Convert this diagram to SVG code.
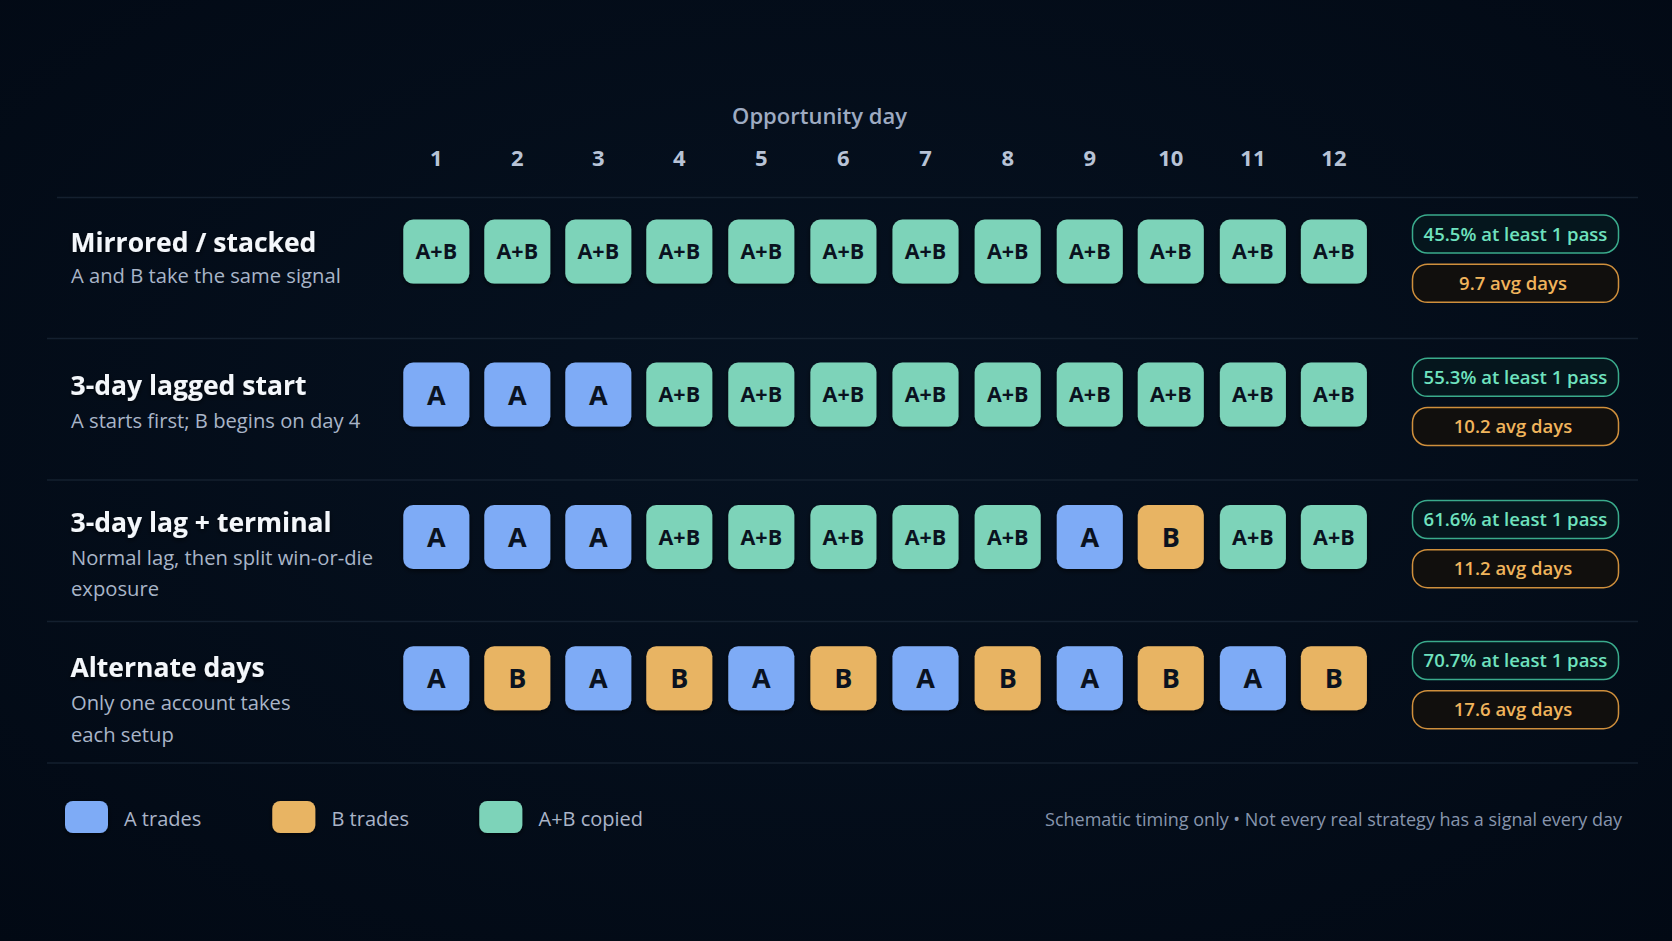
<svg xmlns="http://www.w3.org/2000/svg" width="1672" height="941" viewBox="0 0 1672 941">
<defs>
<radialGradient id="bg" cx="50%" cy="45%" r="75%">
<stop offset="0" stop-color="#061221"/>
<stop offset="1" stop-color="#020914"/>
</radialGradient>
<filter id="sh" x="-20%" y="-20%" width="140%" height="150%">
<feDropShadow dx="0" dy="2" stdDeviation="2.5" flood-color="#000000" flood-opacity="0.6"/>
</filter>
<style>
.title{font-family:"Open Sans","Noto Sans",sans-serif;font-weight:700;font-size:26.5px;fill:#f4f7fb}
.sub{font-family:"Open Sans","Noto Sans",sans-serif;font-size:20.2px;fill:#a9b5c8}
.day{font-family:"Open Sans","Noto Sans",sans-serif;font-weight:700;font-size:22px;fill:#b8c3d6;text-anchor:middle}
.hdr{font-family:"Open Sans","Noto Sans",sans-serif;font-weight:600;font-size:22px;fill:#9eabc2;text-anchor:middle}
.sep{stroke:#14202f;stroke-width:1.5}
.tA{fill:#7eabf6}
.tB{fill:#e8b464}
.tAB{fill:#7dd3b9}
.tt{font-family:"Open Sans","Noto Sans",sans-serif;font-weight:700;fill:#0a1220;text-anchor:middle}
.s1{font-size:27px}
.s2{font-size:21.5px}
.pg{fill:#05161d;stroke:#3aab8c;stroke-width:1.5}
.po{fill:#110f0d;stroke:#cf8f3c;stroke-width:1.5}
.ptg{font-family:"Open Sans","Noto Sans",sans-serif;font-weight:600;font-size:18.5px;fill:#6fe2bf;text-anchor:middle}
.pto{font-family:"Open Sans","Noto Sans",sans-serif;font-weight:600;font-size:18.5px;fill:#f0b45c;text-anchor:middle}
.leg{font-family:"Open Sans","Noto Sans",sans-serif;font-size:20px;fill:#aab4c8}
.foot{font-family:"Open Sans","Noto Sans",sans-serif;font-size:18px;fill:#8795ad;text-anchor:end}
</style>
</defs>
<rect width="1672" height="941" fill="url(#bg)"/>

<g id="header">
<text class="hdr" x="819.5" y="124">Opportunity day</text>
<text class="day" x="436.3" y="166">1</text>
<text class="day" x="517.3" y="166">2</text>
<text class="day" x="598.3" y="166">3</text>
<text class="day" x="679.3" y="166">4</text>
<text class="day" x="761.3" y="166">5</text>
<text class="day" x="843.4" y="166">6</text>
<text class="day" x="925.5" y="166">7</text>
<text class="day" x="1007.7" y="166">8</text>
<text class="day" x="1089.8" y="166">9</text>
<text class="day" x="1170.8" y="166">10</text>
<text class="day" x="1252.9" y="166">11</text>
<text class="day" x="1333.9" y="166">12</text>
</g>

<g id="connectors">
<line class="sep" x1="57" y1="197.5" x2="1638" y2="197.5"/>
<line class="sep" x1="47" y1="338.5" x2="1638" y2="338.5"/>
<line class="sep" x1="47" y1="480" x2="1638" y2="480"/>
<line class="sep" x1="47" y1="621.5" x2="1638" y2="621.5"/>
<line class="sep" x1="47" y1="763" x2="1638" y2="763"/>
</g>

<g id="row1">
<text class="title" x="70.5" y="252" filter="url(#sh)">Mirrored / stacked</text>
<text class="sub" x="71" y="283">A and B take the same signal</text>
<g filter="url(#sh)">
<rect class="tAB" x="403.3" y="219.6" width="66" height="64" rx="10"/>
<rect class="tAB" x="484.3" y="219.6" width="66" height="64" rx="10"/>
<rect class="tAB" x="565.3" y="219.6" width="66" height="64" rx="10"/>
<rect class="tAB" x="646.3" y="219.6" width="66" height="64" rx="10"/>
<rect class="tAB" x="728.3" y="219.6" width="66" height="64" rx="10"/>
<rect class="tAB" x="810.4" y="219.6" width="66" height="64" rx="10"/>
<rect class="tAB" x="892.5" y="219.6" width="66" height="64" rx="10"/>
<rect class="tAB" x="974.7" y="219.6" width="66" height="64" rx="10"/>
<rect class="tAB" x="1056.8" y="219.6" width="66" height="64" rx="10"/>
<rect class="tAB" x="1137.8" y="219.6" width="66" height="64" rx="10"/>
<rect class="tAB" x="1219.9" y="219.6" width="66" height="64" rx="10"/>
<rect class="tAB" x="1300.9" y="219.6" width="66" height="64" rx="10"/>
</g>
<text class="tt s2" x="436.3" y="259.3">A+B</text>
<text class="tt s2" x="517.3" y="259.3">A+B</text>
<text class="tt s2" x="598.3" y="259.3">A+B</text>
<text class="tt s2" x="679.3" y="259.3">A+B</text>
<text class="tt s2" x="761.3" y="259.3">A+B</text>
<text class="tt s2" x="843.4" y="259.3">A+B</text>
<text class="tt s2" x="925.5" y="259.3">A+B</text>
<text class="tt s2" x="1007.7" y="259.3">A+B</text>
<text class="tt s2" x="1089.8" y="259.3">A+B</text>
<text class="tt s2" x="1170.8" y="259.3">A+B</text>
<text class="tt s2" x="1252.9" y="259.3">A+B</text>
<text class="tt s2" x="1333.9" y="259.3">A+B</text>
<rect class="pg" x="1412.5" y="215" width="206" height="38" rx="15"/>
<text class="ptg" x="1515.5" y="240.7">45.5% at least 1 pass</text>
<rect class="po" x="1412.5" y="264.3" width="206" height="38" rx="15"/>
<text class="pto" x="1513" y="290">9.7 avg days</text>
</g>

<g id="row2">
<text class="title" x="70.5" y="394.5" filter="url(#sh)">3-day lagged start</text>
<text class="sub" x="71" y="428.3">A starts first; B begins on day 4</text>
<g filter="url(#sh)">
<rect class="tA" x="403.3" y="362.5" width="66" height="64" rx="10"/>
<rect class="tA" x="484.3" y="362.5" width="66" height="64" rx="10"/>
<rect class="tA" x="565.3" y="362.5" width="66" height="64" rx="10"/>
<rect class="tAB" x="646.3" y="362.5" width="66" height="64" rx="10"/>
<rect class="tAB" x="728.3" y="362.5" width="66" height="64" rx="10"/>
<rect class="tAB" x="810.4" y="362.5" width="66" height="64" rx="10"/>
<rect class="tAB" x="892.5" y="362.5" width="66" height="64" rx="10"/>
<rect class="tAB" x="974.7" y="362.5" width="66" height="64" rx="10"/>
<rect class="tAB" x="1056.8" y="362.5" width="66" height="64" rx="10"/>
<rect class="tAB" x="1137.8" y="362.5" width="66" height="64" rx="10"/>
<rect class="tAB" x="1219.9" y="362.5" width="66" height="64" rx="10"/>
<rect class="tAB" x="1300.9" y="362.5" width="66" height="64" rx="10"/>
</g>
<text class="tt s1" x="436.3" y="404.5">A</text>
<text class="tt s1" x="517.3" y="404.5">A</text>
<text class="tt s1" x="598.3" y="404.5">A</text>
<text class="tt s2" x="679.3" y="402.2">A+B</text>
<text class="tt s2" x="761.3" y="402.2">A+B</text>
<text class="tt s2" x="843.4" y="402.2">A+B</text>
<text class="tt s2" x="925.5" y="402.2">A+B</text>
<text class="tt s2" x="1007.7" y="402.2">A+B</text>
<text class="tt s2" x="1089.8" y="402.2">A+B</text>
<text class="tt s2" x="1170.8" y="402.2">A+B</text>
<text class="tt s2" x="1252.9" y="402.2">A+B</text>
<text class="tt s2" x="1333.9" y="402.2">A+B</text>
<rect class="pg" x="1412.5" y="358.3" width="206" height="38" rx="15"/>
<text class="ptg" x="1515.5" y="384">55.3% at least 1 pass</text>
<rect class="po" x="1412.5" y="407.5" width="206" height="38" rx="15"/>
<text class="pto" x="1513" y="433.2">10.2 avg days</text>
</g>

<g id="row3">
<text class="title" x="70.5" y="531.7" filter="url(#sh)">3-day lag + terminal</text>
<text class="sub" x="71" y="565">Normal lag, then split win-or-die</text>
<text class="sub" x="71" y="596">exposure</text>
<g filter="url(#sh)">
<rect class="tA" x="403.3" y="505" width="66" height="64" rx="10"/>
<rect class="tA" x="484.3" y="505" width="66" height="64" rx="10"/>
<rect class="tA" x="565.3" y="505" width="66" height="64" rx="10"/>
<rect class="tAB" x="646.3" y="505" width="66" height="64" rx="10"/>
<rect class="tAB" x="728.3" y="505" width="66" height="64" rx="10"/>
<rect class="tAB" x="810.4" y="505" width="66" height="64" rx="10"/>
<rect class="tAB" x="892.5" y="505" width="66" height="64" rx="10"/>
<rect class="tAB" x="974.7" y="505" width="66" height="64" rx="10"/>
<rect class="tA" x="1056.8" y="505" width="66" height="64" rx="10"/>
<rect class="tB" x="1137.8" y="505" width="66" height="64" rx="10"/>
<rect class="tAB" x="1219.9" y="505" width="66" height="64" rx="10"/>
<rect class="tAB" x="1300.9" y="505" width="66" height="64" rx="10"/>
</g>
<text class="tt s1" x="436.3" y="547">A</text>
<text class="tt s1" x="517.3" y="547">A</text>
<text class="tt s1" x="598.3" y="547">A</text>
<text class="tt s2" x="679.3" y="544.7">A+B</text>
<text class="tt s2" x="761.3" y="544.7">A+B</text>
<text class="tt s2" x="843.4" y="544.7">A+B</text>
<text class="tt s2" x="925.5" y="544.7">A+B</text>
<text class="tt s2" x="1007.7" y="544.7">A+B</text>
<text class="tt s1" x="1089.8" y="547">A</text>
<text class="tt s1" x="1170.8" y="547">B</text>
<text class="tt s2" x="1252.9" y="544.7">A+B</text>
<text class="tt s2" x="1333.9" y="544.7">A+B</text>
<rect class="pg" x="1412.5" y="500.5" width="206" height="38" rx="15"/>
<text class="ptg" x="1515.5" y="526.2">61.6% at least 1 pass</text>
<rect class="po" x="1412.5" y="549.7" width="206" height="38" rx="15"/>
<text class="pto" x="1513" y="575.4">11.2 avg days</text>
</g>

<g id="row4">
<text class="title" x="70.5" y="676.7" filter="url(#sh)">Alternate days</text>
<text class="sub" x="71" y="710">Only one account takes</text>
<text class="sub" x="71" y="741.7">each setup</text>
<g filter="url(#sh)">
<rect class="tA" x="403.3" y="646.2" width="66" height="64" rx="10"/>
<rect class="tB" x="484.3" y="646.2" width="66" height="64" rx="10"/>
<rect class="tA" x="565.3" y="646.2" width="66" height="64" rx="10"/>
<rect class="tB" x="646.3" y="646.2" width="66" height="64" rx="10"/>
<rect class="tA" x="728.3" y="646.2" width="66" height="64" rx="10"/>
<rect class="tB" x="810.4" y="646.2" width="66" height="64" rx="10"/>
<rect class="tA" x="892.5" y="646.2" width="66" height="64" rx="10"/>
<rect class="tB" x="974.7" y="646.2" width="66" height="64" rx="10"/>
<rect class="tA" x="1056.8" y="646.2" width="66" height="64" rx="10"/>
<rect class="tB" x="1137.8" y="646.2" width="66" height="64" rx="10"/>
<rect class="tA" x="1219.9" y="646.2" width="66" height="64" rx="10"/>
<rect class="tB" x="1300.9" y="646.2" width="66" height="64" rx="10"/>
</g>
<text class="tt s1" x="436.3" y="688.2">A</text>
<text class="tt s1" x="517.3" y="688.2">B</text>
<text class="tt s1" x="598.3" y="688.2">A</text>
<text class="tt s1" x="679.3" y="688.2">B</text>
<text class="tt s1" x="761.3" y="688.2">A</text>
<text class="tt s1" x="843.4" y="688.2">B</text>
<text class="tt s1" x="925.5" y="688.2">A</text>
<text class="tt s1" x="1007.7" y="688.2">B</text>
<text class="tt s1" x="1089.8" y="688.2">A</text>
<text class="tt s1" x="1170.8" y="688.2">B</text>
<text class="tt s1" x="1252.9" y="688.2">A</text>
<text class="tt s1" x="1333.9" y="688.2">B</text>
<rect class="pg" x="1412.5" y="641.5" width="206" height="38" rx="15"/>
<text class="ptg" x="1515.5" y="667.2">70.7% at least 1 pass</text>
<rect class="po" x="1412.5" y="690.7" width="206" height="38" rx="15"/>
<text class="pto" x="1513" y="716.4">17.6 avg days</text>
</g>

<g id="legend">
<g filter="url(#sh)">
<rect class="tA" x="65" y="801" width="43" height="32" rx="8"/>
<rect class="tB" x="272.3" y="801" width="43" height="32" rx="8"/>
<rect class="tAB" x="479.3" y="801" width="43" height="32" rx="8"/>
</g>
<text class="leg" x="124" y="825.5">A trades</text>
<text class="leg" x="331.5" y="825.5">B trades</text>
<text class="leg" x="538.5" y="825.5">A+B copied</text>
</g>

<g id="footnote">
<text class="foot" x="1622" y="825.5">Schematic timing only • Not every real strategy has a signal every day</text>
</g>
</svg>
